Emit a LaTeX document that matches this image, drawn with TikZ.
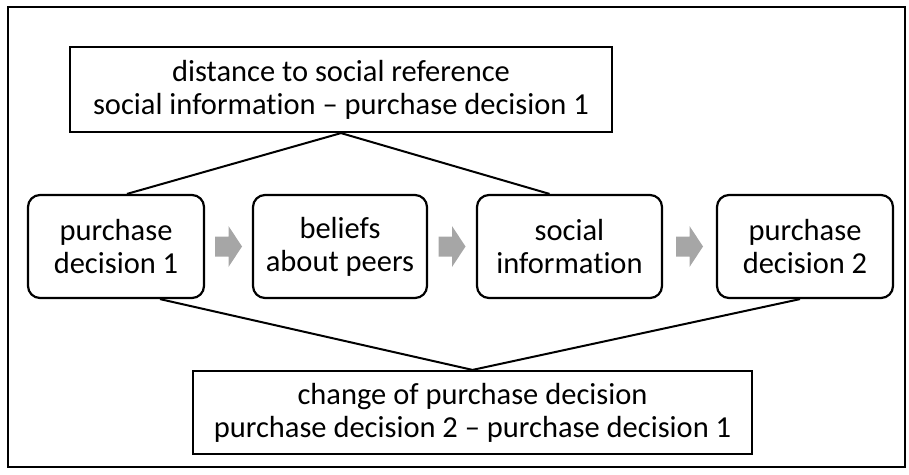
\documentclass[tikz,border=0pt]{standalone}
\usepackage{fontspec}
\setmainfont{Carlito}[RawFeature={-liga;-clig;-calt;-dlig}]
\usetikzlibrary{calc}
\definecolor{arrowgray}{HTML}{A6A6A6}
\tikzset{
  x=1pt, y=-1pt,
  box/.style={draw=black, line width=2.2pt, align=center, inner sep=0pt,
    font=\fontsize{30.5}{33}\selectfont},
  rbox/.style={box, rounded corners=12pt},
  conn/.style={draw=black, line width=2pt},
  garrow/.pic={\fill[arrowgray] (-13.5,-10)--(0,-10)--(0,-20.5)--(13.5,0)--(0,20.5)--(0,10)--(-13.5,10)--cycle;}
}
\begin{document}
\begin{tikzpicture}
\useasboundingbox (0,0) rectangle (909,474);
\draw[line width=2pt] (8,7) rectangle (905,467);
\node[box, minimum width=542pt, minimum height=85pt] (top) at (341,89.5)
  {distance to social reference\\social information -- purchase decision 1};
\node[rbox, minimum width=176pt, minimum height=103pt] (b1) at (116,246.5) {purchase\\decision 1};
\node[rbox, minimum width=174pt, minimum height=103pt] (b2) at (340,246.5) {beliefs\\about peers};
\node[rbox, minimum width=185pt, minimum height=103pt] (b3) at (569.5,246.5) {social\\information};
\node[rbox, minimum width=176pt, minimum height=103pt] (b4) at (805,246.5) {purchase\\decision 2};
\node[box, minimum width=559pt, minimum height=83pt] (bot) at (472.5,412.5)
  {change of purchase decision\\purchase decision 2 -- purchase decision 1};
\coordinate (a1) at ($(b1.east)!0.5!(b2.west)$);
\coordinate (a2) at ($(b2.east)!0.5!(b3.west)$);
\coordinate (a3) at ($(b3.east)!0.5!(b4.west)$);
\pic at (a1) {garrow};
\pic at (a2) {garrow};
\pic at (a3) {garrow};
\draw[conn] ([xshift=11pt]b1.north) -- (top.south) -- ([xshift=-20pt]b3.north);
\draw[conn] ([xshift=44pt]b1.south) -- (bot.north) -- ([xshift=-5pt]b4.south);
\end{tikzpicture}
\end{document}
